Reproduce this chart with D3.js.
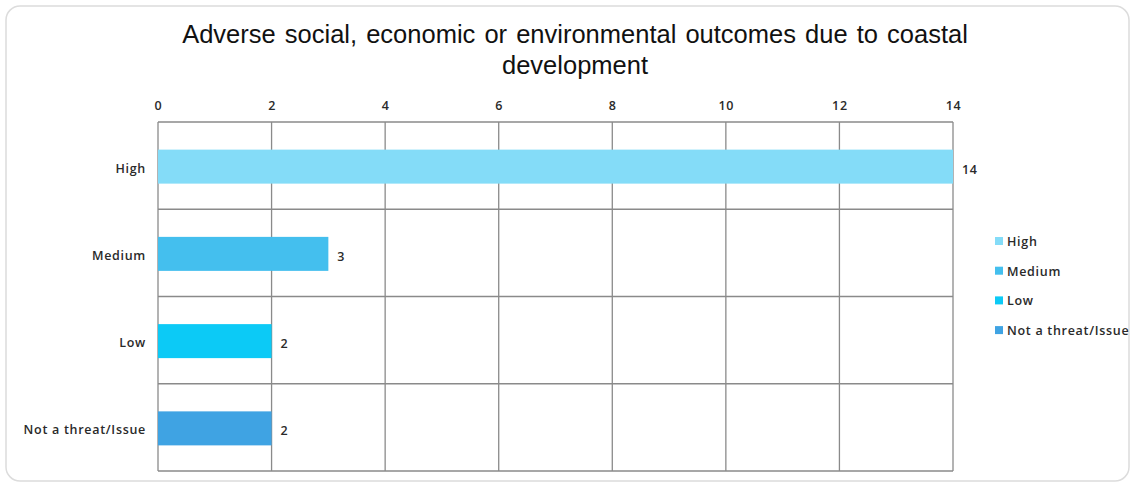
<!DOCTYPE html>
<html>
<head>
<meta charset="utf-8">
<script src="https://cdn.jsdelivr.net/npm/d3@7"></script>
<style>
  body { margin: 0; background: #fff; }
  #chart-wrapper { width: 1135px; height: 487px; }
</style>
</head>
<body>
<div id="chart-wrapper"></div>
<script>
// data
const categories = ["High", "Medium", "Low", "Not a threat/Issue"]
const counts = [14, 3, 2, 2]
const barColors = ["#84dcf8", "#44bfee", "#0ccaf6", "#3fa3e3"]
const xTicks = [0, 2, 4, 6, 8, 10, 12, 14]
const titleLines = ["Adverse social, economic or environmental outcomes due to coastal", "development"]

function drawChart() {
  const width = 1135
  const height = 487
  const margin = { top: 122, right: 182, bottom: 16, left: 158 }

  const svg = d3.select("#chart-wrapper")
    .append("svg")
      .attr("width", width)
      .attr("height", height)

  // outer rounded frame
  svg.append("rect")
    .attr("x", 6).attr("y", 6)
    .attr("width", width - 12).attr("height", height - 12)
    .attr("rx", 14)
    .attr("fill", "#fff")
    .attr("stroke", "#dcdcdc")
    .attr("stroke-width", 1.5)

  // title
  svg.append("text")
    .attr("x", 575)
    .attr("font-family", "Liberation Sans, Arial, sans-serif")
    .attr("font-size", 25.5)
    .attr("fill", "#111")
    .attr("text-anchor", "middle")
    .attr("word-spacing", 2)
    .selectAll("tspan")
    .data(titleLines)
    .join("tspan")
      .attr("x", 575)
      .attr("y", (d, i) => 43 + i * 31)
      .text(d => d)

  // scales
  const xScale = d3.scaleLinear()
    .domain([0, 14])
    .range([margin.left, width - margin.right])

  const yScale = d3.scaleBand()
    .domain(categories)
    .range([margin.top, height - margin.bottom])
    .paddingInner(0)

  const plotFont = "'Open Sans', sans-serif"
  const fontSize = 12.5
  const textColor = "#2a2a2a"

  // grid
  const grid = svg.append("g")
  grid.selectAll(".vline")
    .data(xTicks)
    .join("line")
      .attr("x1", d => xScale(d)).attr("x2", d => xScale(d))
      .attr("y1", margin.top).attr("y2", height - margin.bottom)
      .attr("stroke", "#8a8a8a").attr("stroke-width", 1.3)
  const hLines = categories.map(c => yScale(c)).concat([height - margin.bottom])
  grid.selectAll(".hline")
    .data(hLines)
    .join("line")
      .attr("x1", xScale(0)).attr("x2", xScale(14))
      .attr("y1", d => d).attr("y2", d => d)
      .attr("stroke", "#8a8a8a").attr("stroke-width", 1.3)

  // top axis labels
  const xAxis = d3.axisTop(xScale).tickValues(xTicks).tickSize(0).tickPadding(12)
  const axisG = svg.append("g")
    .attr("transform", `translate(0,${margin.top})`)
    .call(xAxis)
  axisG.select(".domain").remove()
  axisG.selectAll("text")
    .attr("font-family", plotFont)
    .attr("font-size", fontSize)
    .attr("font-weight", 600)
    .attr("letter-spacing", 0.7)
    .attr("fill", textColor)

  // category labels
  const yAxis = d3.axisLeft(yScale).tickSize(0).tickPadding(12)
  const yG = svg.append("g")
    .attr("transform", `translate(${margin.left},3)`)
    .call(yAxis)
  yG.select(".domain").remove()
  yG.selectAll("text")
    .attr("font-family", plotFont)
    .attr("font-size", fontSize)
    .attr("font-weight", 600)
    .attr("letter-spacing", 0.7)
    .attr("fill", textColor)

  // bars
  const barH = 34
  svg.append("g").selectAll("rect")
    .data(categories)
    .join("rect")
      .attr("x", xScale(0))
      .attr("y", d => yScale(d) + yScale.bandwidth() / 2 - barH / 2 + 1)
      .attr("width", (d, i) => xScale(counts[i]) - xScale(0))
      .attr("height", barH)
      .attr("fill", (d, i) => barColors[i])

  // value labels
  svg.append("g").selectAll("text")
    .data(categories)
    .join("text")
      .attr("x", (d, i) => xScale(counts[i]) + 9)
      .attr("y", d => yScale(d) + yScale.bandwidth() / 2 + 8)
      .attr("font-family", plotFont)
      .attr("font-size", fontSize)
      .attr("font-weight", 600)
      .attr("letter-spacing", 0.7)
      .attr("fill", textColor)
      .text((d, i) => counts[i])

  // legend
  const legend = svg.append("g")
    .attr("transform", "translate(995,242)")
  const items = legend.selectAll("g")
    .data(categories)
    .join("g")
      .attr("transform", (d, i) => `translate(0,${i * 29.7})`)
  items.append("rect")
    .attr("x", 0).attr("y", -5)
    .attr("width", 8).attr("height", 8)
    .attr("fill", (d, i) => barColors[i])
  items.append("text")
    .attr("x", 12).attr("y", 4)
    .attr("font-family", plotFont)
    .attr("font-size", fontSize)
    .attr("font-weight", 600)
    .attr("letter-spacing", 0.7)
    .attr("fill", textColor)
    .text(d => d)
}

window.onload = function () {
  drawChart()
}
</script>
</body>
</html>
